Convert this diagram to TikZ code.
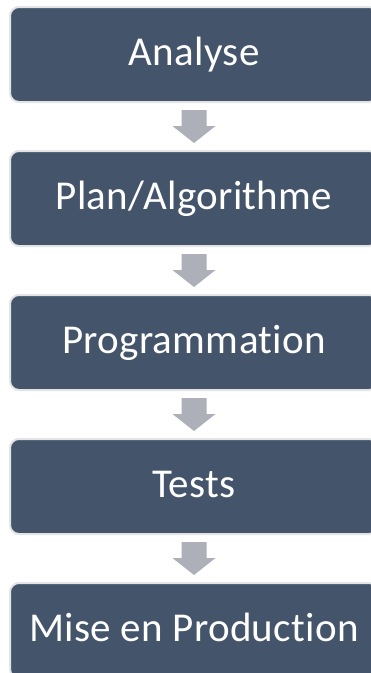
\documentclass[tikz,border=0pt]{standalone}
\usepackage{fontspec}
\setmainfont{Carlito}[Ligatures={NoCommon}, LetterSpace=0.8]
\usetikzlibrary{calc}
\definecolor{boxblue}{HTML}{44546A}
\definecolor{boxedge}{HTML}{E4E4E4}
\definecolor{arrowgray}{HTML}{ADB0B8}
\tikzset{
  stepbox/.style={rounded corners=9pt, fill=boxblue, draw=boxedge, line width=2pt,
    minimum width=368pt, minimum height=95pt, inner sep=0pt,
    text height=21pt, text depth=0pt,
    text=white, font=\fontsize{41}{45}\selectfont},
  flowarrow/.style={fill=arrowgray, draw=none},
}
% block arrow between two stacked boxes
\newcommand{\blockarrow}[2]{%
  \fill[flowarrow] ($(#1.south)+(-12.5,7)$) -- ($(#1.south)+(12.5,7)$)
    -- ($(#2.north)+(12.5,-24)$) -- ($(#2.north)+(21.5,-24)$)
    -- ($(#2.north)+(0,-7)$) -- ($(#2.north)+(-21.5,-24)$)
    -- ($(#2.north)+(-12.5,-24)$) -- cycle;}
\begin{document}
\begin{tikzpicture}[x=1pt, y=-1pt]
  \clip (0,0) rectangle (371,673);
  \useasboundingbox (0,0) rectangle (371,673);
  \fill[white] (0,0) rectangle (371,673);
  \node[stepbox] (analyse) at (194,54.5) {Analyse};
  \node[stepbox] (plan)    at (194,198.5) {Plan/Algorithme};
  \node[stepbox] (prog)    at (194,342.5) {Programmation};
  \node[stepbox] (tests)   at (194,486.5) {Tests};
  \node[stepbox] (prod)    at (194,630.5) {Mise en Production};
  \blockarrow{analyse}{plan}
  \blockarrow{plan}{prog}
  \blockarrow{prog}{tests}
  \blockarrow{tests}{prod}
\end{tikzpicture}
\end{document}
